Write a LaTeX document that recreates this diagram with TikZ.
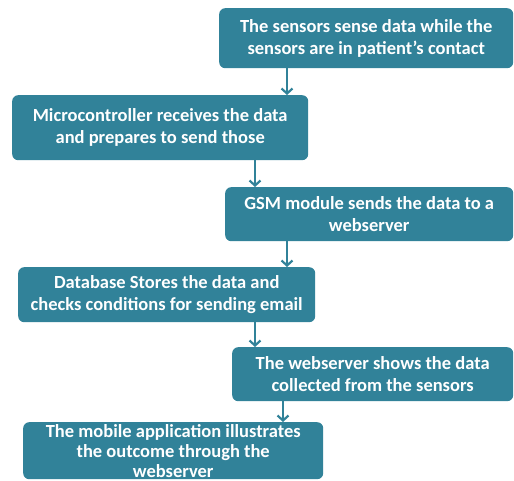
\documentclass[tikz,border=0pt]{standalone}
\usepackage{fontspec}
\setmainfont{Carlito}
\usetikzlibrary{positioning}
\usetikzlibrary{arrows.meta}
\definecolor{tealbox}{RGB}{49,130,153}

\tikzset{
  stepbox/.style={draw=none, fill=tealbox, rounded corners=6pt, anchor=north west,
    text=white, font=\bfseries\fontsize{18.5}{22}\selectfont, align=center, inner sep=1pt},
  flow/.style={draw=tealbox, line width=2.2pt, -{Straight Barb[length=5pt,width=11pt]}}
}

\begin{document}
\begin{tikzpicture}[x=1pt,y=-1pt]
  \useasboundingbox (0,0) rectangle (514,481);

  % Boxes
  \node[stepbox, minimum width=294pt, minimum height=60pt] (sense) at (219,8)
    {The sensors sense data while the\\sensors are in patient’s contact};
  \node[stepbox, minimum width=296pt, minimum height=65pt] (micro) at (12,95)
    {Microcontroller receives the data\\and prepares to send those};
  \node[stepbox, minimum width=288pt, minimum height=54pt] (gsm) at (225,187)
    {GSM module sends the data to a\\webserver};
  \node[stepbox, minimum width=297pt, minimum height=55pt] (dbase) at (18,267)
    {Database Stores the data and\\checks conditions for sending email};
  \node[stepbox, minimum width=281pt, minimum height=54pt] (websrv) at (232,347)
    {The webserver shows the data\\collected from the sensors};
  \node[stepbox, minimum width=300pt, minimum height=57pt,
    font=\bfseries\fontsize{18.5}{20}\selectfont] (mobile) at (23,422)
    {The mobile application illustrates\\the outcome through the\\webserver};

  % Columns for the arrows
  \coordinate (right) at (287,0);
  \coordinate (left) at (255,0);
  \coordinate (last) at (283,0);

  % Arrows
  \draw[flow] (sense.south -| right) -- (micro.north -| right);
  \draw[flow] (micro.south -| left) -- (gsm.north -| left);
  \draw[flow] (gsm.south -| right) -- (dbase.north -| right);
  \draw[flow] (dbase.south -| left) -- (websrv.north -| left);
  \draw[flow] (websrv.south -| last) -- (mobile.north -| last);
\end{tikzpicture}
\end{document}
